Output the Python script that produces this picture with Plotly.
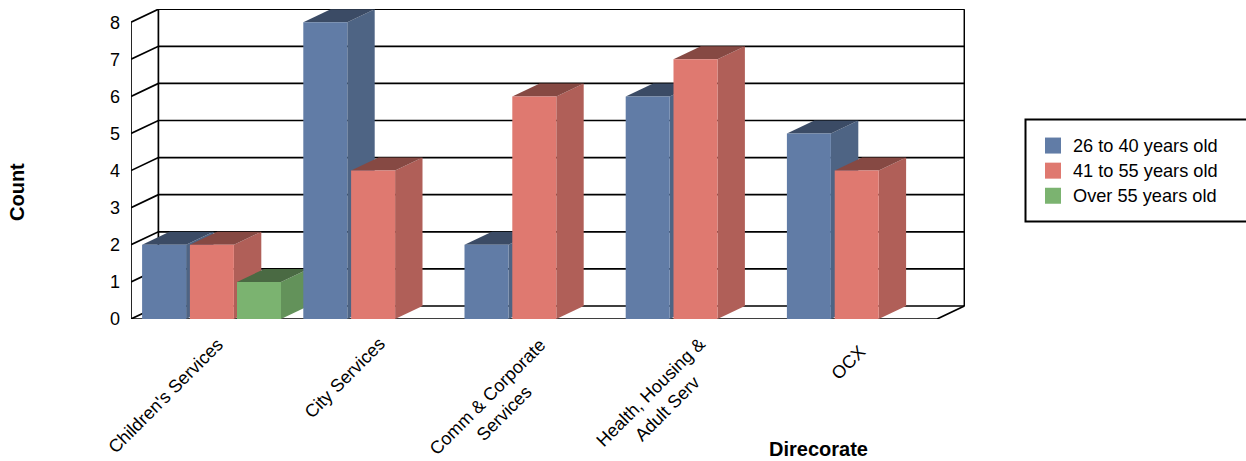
import plotly.graph_objects as go

# Chart data
categories = ["Children's Services", "City Services", "Comm & Corporate<br>Services",
              "Health, Housing &<br>Adult Serv", "OCX"]
age_26_40 = [2, 8, 2, 6, 5]
age_41_55 = [2, 4, 6, 7, 4]
age_over_55 = [1, None, None, None, None]
series_names = ["26 to 40 years old", "41 to 55 years old", "Over 55 years old"]
y_ticks = [0, 1, 2, 3, 4, 5, 6, 7, 8]

# Front, side and top shades per series
front_colors = ["#617CA6", "#DF7970", "#7BB370"]
side_colors = ["#4E6484", "#B05F58", "#63925A"]
top_colors = ["#3B4B65", "#864943", "#4A6A43"]

# Pseudo-3D geometry, in axis units
PX_PER_CATEGORY = 161.2
PX_PER_COUNT = 37.1
DEPTH_X = 27.4 / PX_PER_CATEGORY
DEPTH_Y = 13 / PX_PER_COUNT
BAR_WIDTH = 44 / PX_PER_CATEGORY
SLOT_STARTS = [-69.5 / PX_PER_CATEGORY, -21.7 / PX_PER_CATEGORY, 25.4 / PX_PER_CATEGORY]
X_RANGE = [-0.5, -0.5 + 834 / PX_PER_CATEGORY]
Y_RANGE = [0, 310 / PX_PER_COUNT]
LABEL_FONT = "Liberation Sans, Arial, sans-serif"

# Plot area in pixels, used to place titles and the legend frame in paper units
PLOT_LEFT, PLOT_BOTTOM, PLOT_W, PLOT_H = 131, 319, 834, 310


def paper_x(px):
    return (px - PLOT_LEFT) / PLOT_W


def paper_y(py):
    return (PLOT_BOTTOM - py) / PLOT_H


fig = go.Figure()

# Back wall, side wall and floor
wall_x, wall_y = [], []
x_left, x_right = -0.5, 4.5
for v in y_ticks:
    wall_x += [x_left, x_left + DEPTH_X, x_right + DEPTH_X, None]
    wall_y += [v, v + DEPTH_Y, v + DEPTH_Y, None]
wall_x += [x_left + DEPTH_X, x_left + DEPTH_X, None, x_right + DEPTH_X, x_right + DEPTH_X, None]
wall_y += [DEPTH_Y, y_ticks[-1] + DEPTH_Y, None, DEPTH_Y, y_ticks[-1] + DEPTH_Y, None]
wall_x += [x_left, x_left, None, x_left, x_right, x_right + DEPTH_X]
wall_y += [0, y_ticks[-1], None, 0, 0, DEPTH_Y]
fig.add_trace(go.Scatter(x=wall_x, y=wall_y, mode="lines", showlegend=False, hoverinfo="skip",
                         line=dict(color="#000000", width=1.7)))


def add_face(xs, ys, color):
    fig.add_trace(go.Scatter(x=xs, y=ys, mode="lines", fill="toself", fillcolor=color,
                             line=dict(width=0, color=color), showlegend=False, hoverinfo="skip"))


# Bars are painted left to right so nearer faces cover their neighbours
for i in range(len(categories)):
    for s, values in enumerate([age_26_40, age_41_55, age_over_55]):
        v = values[i]
        if v is None:
            continue
        x0 = i + SLOT_STARTS[s]
        x1 = x0 + BAR_WIDTH
        add_face([x1, x1 + DEPTH_X, x1 + DEPTH_X, x1, x1],
                 [0, DEPTH_Y, v + DEPTH_Y, v, 0], side_colors[s])
        add_face([x0, x0 + DEPTH_X, x1 + DEPTH_X, x1, x0],
                 [v, v + DEPTH_Y, v + DEPTH_Y, v, v], top_colors[s])
        add_face([x0, x1, x1, x0, x0], [0, 0, v, v, 0], front_colors[s])

# Legend entries
for name, color in zip(series_names, front_colors):
    fig.add_trace(go.Scatter(x=[None], y=[None], mode="markers",
                             name=f'<span style="font-size:18.2px">{name}</span>',
                             marker=dict(symbol="square", size=17, color=color)))

# Category labels sit below the floor, rotated and centred per line
label_centres = [(165.5, 396), (344.5, 377.5), (495, 405), (658.5, 400), (848, 363)]
for i, (label, (cx, cy)) in enumerate(zip(categories, label_centres)):
    fig.add_annotation(x=i, y=0, xref="x", yref="y", text=label, showarrow=False,
                       textangle=-45, align="center", xanchor="center", yanchor="middle",
                       xshift=cx - (PLOT_LEFT + (i + 0.5) * PX_PER_CATEGORY), yshift=PLOT_BOTTOM - cy,
                       font=dict(family=LABEL_FONT, size=18, color="#000000"))

fig.add_annotation(x=paper_x(818), y=paper_y(449), xref="paper", yref="paper",
                   text="<b>Direcorate</b>", showarrow=False, xanchor="center", yanchor="middle",
                   font=dict(family=LABEL_FONT, size=20, color="#000000"))
fig.add_annotation(x=paper_x(17), y=paper_y(192), xref="paper", yref="paper",
                   text="<b>Count</b>", showarrow=False, textangle=-90,
                   xanchor="center", yanchor="middle",
                   font=dict(family=LABEL_FONT, size=20, color="#000000"))

# Legend frame, wider than the entries themselves
fig.add_shape(type="rect", xref="paper", yref="paper", layer="below",
              x0=paper_x(1025.5), x1=paper_x(1250), y0=paper_y(221.5), y1=paper_y(119.5),
              line=dict(color="#000000", width=2), fillcolor="#FFFFFF")

fig.update_layout(
    width=1246, height=461,
    margin=dict(l=PLOT_LEFT, r=281, t=9, b=142, autoexpand=False),
    paper_bgcolor="#FFFFFF", plot_bgcolor="#FFFFFF",
    showlegend=True,
    font=dict(family=LABEL_FONT, color="#000000"),
    legend=dict(x=paper_x(1033), y=paper_y(128), xanchor="left", yanchor="top",
                bgcolor="rgba(0,0,0,0)", borderwidth=0,
                font=dict(family=LABEL_FONT, size=17, color="#000000"),
                itemsizing="trace"),
    xaxis=dict(range=X_RANGE, visible=False, fixedrange=True),
    yaxis=dict(range=Y_RANGE, tickvals=y_ticks, showgrid=False, zeroline=False, showline=False,
               ticks="", ticklabelstandoff=10,
               tickfont=dict(family=LABEL_FONT, size=18, color="#000000"),
               fixedrange=True),
)

fig.write_html("out.html")
